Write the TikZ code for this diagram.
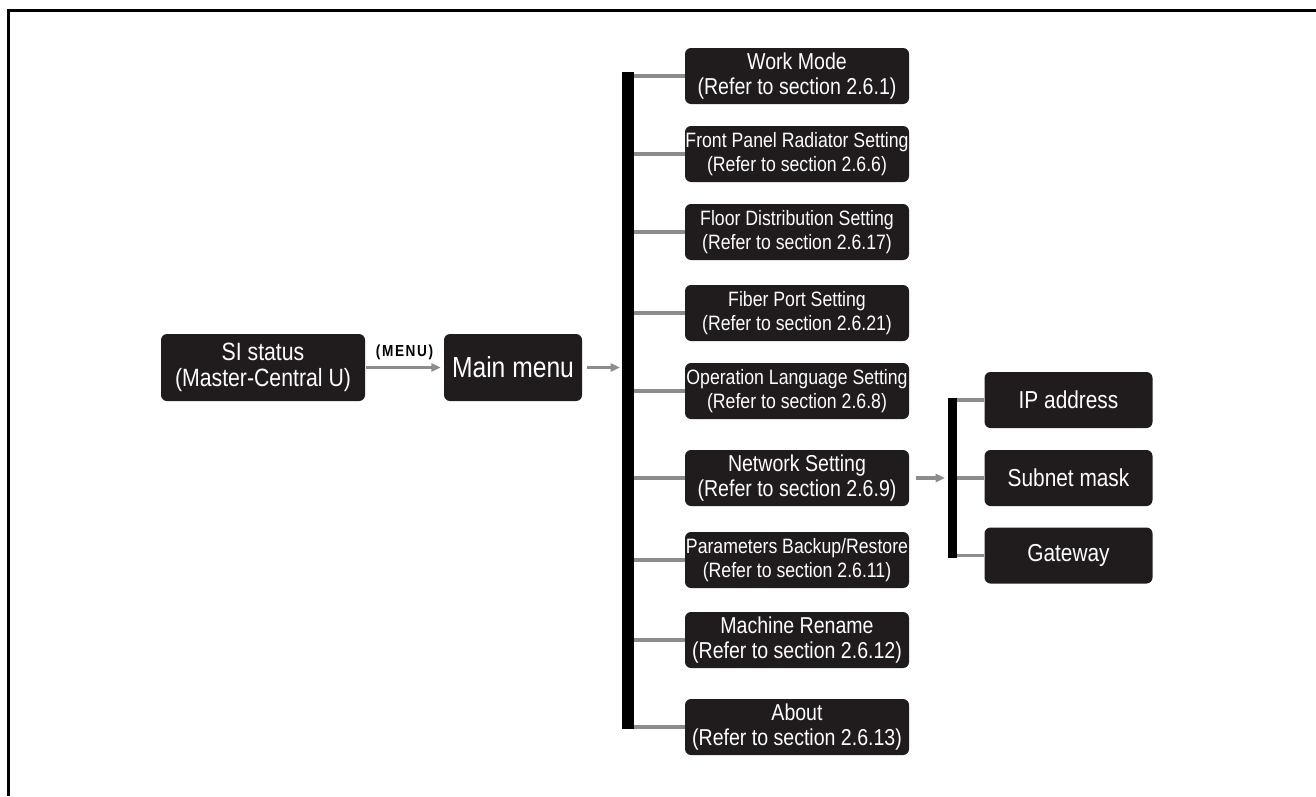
\documentclass[tikz,border=0pt]{standalone}
\usepackage{fontspec}
\setmainfont{Liberation Sans}[FakeStretch=0.85]
\usetikzlibrary{arrows.meta}
\definecolor{boxblack}{RGB}{32,27,28}
\definecolor{linkgray}{RGB}{140,140,140}
\newcommand*{\submenu}[5][bigtext]{%
  \node [subbox, #1] (#2) at (797,#3) {#4\\(Refer to section #5)};
}

\begin{document}
\begin{tikzpicture}[x=0.75pt, y=-0.75pt,
    box/.style = {fill=boxblack, rounded corners=4.5pt, text=white,
                  align=center, inner sep=0pt},
    subbox/.style = {box, minimum width=168pt, minimum height=42pt},
    netbox/.style = {box, minimum width=126pt, minimum height=42pt,
                     font=\fontsize{18.4}{20}\selectfont},
    bigtext/.style = {font=\fontsize{17.25}{18.5}\selectfont},
    smalltext/.style = {font=\fontsize{15.6}{18.5}\selectfont},
    link/.style = {draw=linkgray, line width=2.5pt},
    arr/.style = {link, -{Triangle[length=7pt,width=6pt]}},
    bar/.style = {draw=black, line width=9pt}]
    \useasboundingbox (0,0) rectangle (1316,796);
    % frame
    \draw[line width=2.25pt] (8.5,796) -- (8.5,10.5) -- (1316,10.5);

    \node [box, minimum width=153pt, minimum height=50.25pt,
           font=\fontsize{18.75}{19.5}\selectfont] (si) at (263,367.5)
          {SI status\\(Master-Central U)};
    \node [box, minimum width=103.5pt, minimum height=50.25pt,
           font=\fontsize{21.75}{24}\selectfont] (main) at (513,367.5)
          {Main menu};

    \submenu{work}{76}{Work Mode}{2.6.1}
    \submenu[smalltext]{panel}{154}{Front Panel Radiator Setting}{2.6.6}
    \submenu[smalltext]{floor}{232}{Floor Distribution Setting}{2.6.17}
    \submenu[smalltext]{fiber}{313}{Fiber Port Setting}{2.6.21}
    \submenu[smalltext]{lang}{391}{Operation Language Setting}{2.6.8}
    \submenu{net}{478}{Network Setting}{2.6.9}
    \submenu[smalltext]{backup}{560}{Parameters Backup/Restore}{2.6.11}
    \submenu{rename}{640}{Machine Rename}{2.6.12}
    \submenu{about}{727}{About}{2.6.13}

    \node [netbox] (ip) at (1068.5,400) {IP address};
    \node [netbox] (mask) at (1068.5,478) {Subnet mask};
    \node [netbox] (gw) at (1068.5,555.5) {Gateway};

    \coordinate (bartop) at (628,72);
    \coordinate (barbot) at (628,729);
    \coordinate (nettop) at (952.5,398);
    \coordinate (netbot) at (952.5,558);

    \draw[arr, shorten <=0.75pt, shorten >=2.25pt] (si) --
        node [above=1pt, font=\fontsize{12}{14}\selectfont\bfseries
              \addfontfeature{LetterSpace=10}] (menulbl) {(MENU)} (main);
    \draw[arr, shorten <=3.75pt, shorten >=6pt] (main.east) -- (main.east -| bartop);
    \draw[arr, shorten <=5.25pt, shorten >=5.6pt] (net.east) -- (net.east -| nettop);

    \draw[link] (work.west) -- (work.west -| bartop);
    \draw[link] (panel.west) -- (panel.west -| bartop);
    \draw[link] (floor.west) -- (floor.west -| bartop);
    \draw[link] (fiber.west) -- (fiber.west -| bartop);
    \draw[link] (lang.west) -- (lang.west -| bartop);
    \draw[link] (net.west) -- (net.west -| bartop);
    \draw[link] (backup.west) -- (backup.west -| bartop);
    \draw[link] (rename.west) -- (rename.west -| bartop);
    \draw[link] (about.west) -- (about.west -| bartop);
    \draw[bar] (bartop) -- (barbot);

    \draw[link] (ip.west) -- (ip.west -| nettop);
    \draw[link] (mask.west) -- (mask.west -| nettop);
    \draw[link] (gw.west) -- (gw.west -| nettop);
    \draw[bar, line width=6.75pt] (nettop) -- (netbot);
\end{tikzpicture}
\end{document}
